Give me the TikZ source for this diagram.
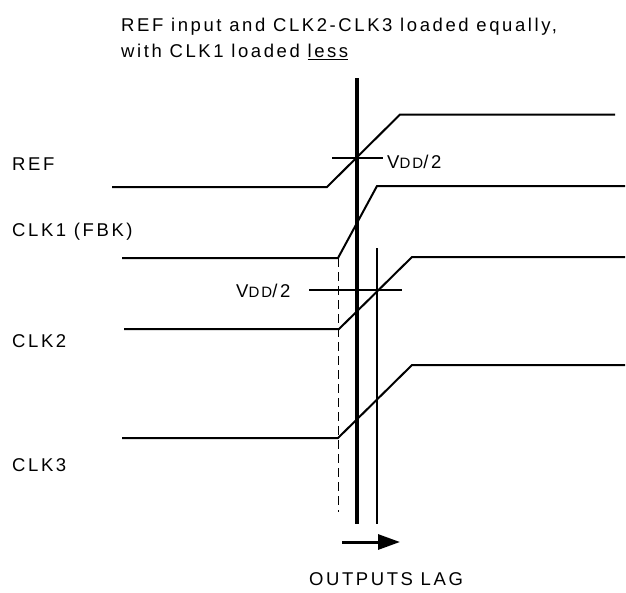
\documentclass[tikz,border=0pt]{standalone}
\usepackage{fontspec}
\setmainfont{Liberation Sans}[LetterSpace=14]
\usetikzlibrary{arrows.meta}
\newcommand{\vdd}{V{\fontsize{15}{15}\selectfont DD}/2}
\begin{document}
\begin{tikzpicture}[x=1pt,y=-1pt,
  lbl/.style={anchor=base west,inner sep=0pt,font=\fontsize{18.5}{26}\selectfont},
  sig/.style={line width=2pt,line join=miter},
  thick vline/.style={line width=3.6pt},
  thin vline/.style={line width=2pt},
  dline/.style={line width=1.8pt,dash pattern=on 9pt off 5pt},
  tick/.style={line width=2pt}]
\useasboundingbox (0,0) rectangle (626,592);
% title
\node[lbl] (title1) at (121,31) {REF input and CLK2-CLK3 loaded equally,};
\node[lbl] (title2) at (121,57.5) {with CLK1 loaded \underline{less}};
% labels
\node[lbl] (lref) at (12,170) {REF};
\node[lbl] (lclk1) at (12,236) {CLK1 (FBK)};
\node[lbl] (lclk2) at (12,347) {CLK2};
\node[lbl] (lclk3) at (12,471) {CLK3};
% signals
\draw[sig] (112,187) -- (327,187) -- (400,114.5) -- (615,114.5);
\draw[sig] (122,258) -- (338,258) -- (377,186) -- (625,186);
\draw[sig] (124,329) -- (339,329) -- (412,257) -- (625,257);
\draw[sig] (122,438) -- (338,438) -- (412,365) -- (625,365);
% verticals
\coordinate (tv1) at (357,78);
\coordinate (tv2) at (357,524);
\draw[thick vline] (tv1) -- (tv2);
\coordinate (nv1) at (377,248);
\coordinate (nv2) at (377,524);
\draw[thin vline] (nv1) -- (nv2);
\coordinate (dv1) at (338.5,258);
\coordinate (dv2) at (338.5,512);
\draw[dline] (dv1) -- (dv2);
% ticks
\coordinate (t1a) at (332,158);
\coordinate (t1b) at (383,158);
\draw[tick] (t1a) -- (t1b);
\coordinate (t2a) at (309,290);
\coordinate (t2b) at (402,290);
\draw[tick] (t2a) -- (t2b);
\node[lbl] (v1) at (387,168) {\vdd};
\node[lbl] (v2) at (236,297) {\vdd};
% arrow
\coordinate (a1) at (342,542);
\coordinate (a2) at (400,542);
\draw[line width=3pt,-{Triangle[length=22pt,width=15pt]}] (a1) -- (a2);
\node[lbl,anchor=base] (lag) at (386,585) {OUTPUTS LAG};
\end{tikzpicture}
\end{document}
